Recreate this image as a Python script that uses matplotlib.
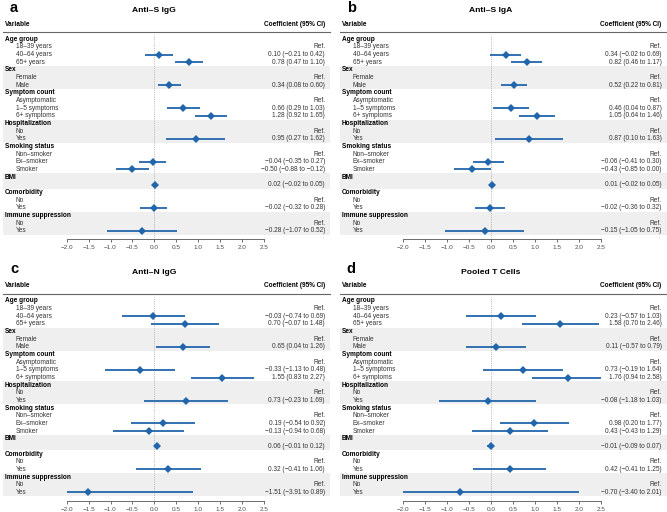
import numpy as np
import matplotlib
matplotlib.use('Agg')
import matplotlib.pyplot as plt

plt.rcParams['font.family'] = ['Liberation Sans', 'DejaVu Sans']

# rows: (label, kind)  kind: g = group header, r = reference, e = estimate
rows = [('Age group', 'g'), ('18–39 years', 'r'), ('40–64 years', 'e'), ('65+ years', 'e'),
        ('Sex', 'g'), ('Female', 'r'), ('Male', 'e'),
        ('Symptom count', 'g'), ('Asymptomatic', 'r'), ('1–5 symptoms', 'e'), ('6+ symptoms', 'e'),
        ('Hospitalization', 'g'), ('No', 'r'), ('Yes', 'e'),
        ('Smoking status', 'g'), ('Non–smoker', 'r'), ('Ex–smoker', 'e'), ('Smoker', 'e'),
        ('BMI', 'g'), ('', 'e'),
        ('Comorbidity', 'g'), ('No', 'r'), ('Yes', 'e'),
        ('Immune suppression', 'g'), ('No', 'r'), ('Yes', 'e')]

# groups shaded grey (start row, end row)
shaded = [(4, 6), (11, 13), (18, 19), (23, 25)]

titles = ['Anti–S IgG', 'Anti–S IgA', 'Anti–N IgG', 'Pooled T Cells']
letters = ['a', 'b', 'c', 'd']

est_a = [0.10, 0.78, 0.34, 0.66, 1.28, 0.95, -0.04, -0.50, 0.02, -0.02, -0.28]
lo_a = [-0.21, 0.47, 0.08, 0.29, 0.92, 0.27, -0.35, -0.88, -0.02, -0.32, -1.07]
hi_a = [0.42, 1.10, 0.60, 1.03, 1.65, 1.62, 0.27, -0.12, 0.05, 0.28, 0.52]

est_b = [0.34, 0.82, 0.52, 0.46, 1.05, 0.87, -0.06, -0.43, 0.01, -0.02, -0.15]
lo_b = [-0.02, 0.46, 0.22, 0.04, 0.64, 0.10, -0.41, -0.85, -0.02, -0.36, -1.05]
hi_b = [0.69, 1.17, 0.81, 0.87, 1.46, 1.63, 0.30, 0.00, 0.05, 0.32, 0.75]

est_c = [-0.03, 0.70, 0.65, -0.33, 1.55, 0.73, 0.19, -0.13, 0.06, 0.32, -1.51]
lo_c = [-0.74, -0.07, 0.04, -1.13, 0.83, -0.23, -0.54, -0.94, -0.01, -0.41, -3.91]
hi_c = [0.69, 1.48, 1.26, 0.48, 2.27, 1.69, 0.92, 0.68, 0.12, 1.06, 0.89]

est_d = [0.23, 1.58, 0.11, 0.73, 1.76, -0.08, 0.98, 0.43, -0.01, 0.42, -0.70]
lo_d = [-0.57, 0.70, -0.57, -0.19, 0.94, -1.18, 0.20, -0.43, -0.09, -0.41, -3.40]
hi_d = [1.03, 2.46, 0.79, 1.64, 2.58, 1.03, 1.77, 1.29, 0.07, 1.25, 2.01]

xticks = np.arange(-2.0, 2.51, 0.5)

W, H = 667, 512
fig = plt.figure(figsize=(W / 100, H / 100), dpi=100)

ROW0 = 39.3     # px of first row inside a panel
STEP = 7.655    # px per row
AXIS_Y = 239.0  # px of x axis line
FS = 4.7
BLUE = '#2166ac'


def fmt(v):
    return f'{v:.2f}'.replace('-', '−')


def add_axes_px(x0, x1, y0, y1):
    return fig.add_axes([x0 / W, 1 - y1 / H, (x1 - x0) / W, (y1 - y0) / H])


def draw_panel(px, py, letter, title, est, lo, hi):
    top = ROW0 - 0.5 * STEP + py
    bot = AXIS_Y + py
    ylim = ((AXIS_Y - ROW0) / STEP, -0.5)

    # background / text axes
    bg = add_axes_px(px + 3, px + 330, top, bot)
    bg.set_xlim(3, 330)
    bg.set_ylim(*ylim)
    bg.axis('off')
    for s, e in shaded:
        bg.axhspan(s - 0.5, e + 0.5, color='#efefef', lw=0, zorder=0)

    k = 0
    for i, (lab, kind) in enumerate(rows):
        if kind == 'g':
            bg.text(5, i, lab, fontsize=FS, fontweight='bold', va='center', ha='left', color='black')
        else:
            bg.text(16, i, lab, fontsize=FS, va='center', ha='left', color='#333333')
            if kind == 'r':
                bg.text(325, i, 'Ref.', fontsize=FS, va='center', ha='right', color='#333333')
            else:
                s = f'{fmt(est[k])} ({fmt(lo[k])} to {fmt(hi[k])})'
                bg.text(325, i, s, fontsize=FS, va='center', ha='right', color='#333333')
                k += 1

    # header
    fig.text((px + 5) / W, 1 - (py + 24) / H, 'Variable', fontsize=FS, fontweight='bold',
             va='center', ha='left')
    fig.text((px + 325) / W, 1 - (py + 24) / H, 'Coefficient (95% CI)', fontsize=FS,
             fontweight='bold', va='center', ha='right')
    fig.add_artist(plt.Line2D([(px + 3) / W, (px + 330) / W], [1 - (py + 32.3) / H] * 2,
                              color='#666666', lw=0.8))
    fig.text((px + 154) / W, 1 - (py + 11) / H, title, fontsize=6.1, fontweight='bold',
             va='center', ha='center')
    fig.text((px + 10) / W, 1 - (py + 7.5) / H, letter, fontsize=10.5, fontweight='bold',
             va='center', ha='left')

    # forest axes
    ax = add_axes_px(px + 66.7, px + 264, top, bot)
    ax.patch.set_alpha(0)
    ax.set_xlim(-2, 2.5)
    ax.set_ylim(*ylim)
    for sp in ['top', 'left', 'right']:
        ax.spines[sp].set_visible(False)
    ax.spines['bottom'].set_color('#555555')
    ax.spines['bottom'].set_linewidth(0.6)
    ax.set_yticks([])
    ax.set_xticks(xticks)
    ax.set_xticklabels([f'{t:.1f}'.replace('-', '−') for t in xticks])
    ax.tick_params(axis='x', labelsize=4.6, labelcolor='#4d4d4d', color='#555555',
                   length=2, width=0.6, pad=2.5)
    ax.axvline(0, color='#aaaaaa', lw=0.6, ls=(0, (1, 1.2)), zorder=1)

    ypos = [i for i, (_, kind) in enumerate(rows) if kind == 'e']
    ax.hlines(ypos, lo, hi, color=BLUE, lw=1.3, zorder=2)
    ax.plot(est, ypos, 'D', color=BLUE, ms=3.6, mew=0, zorder=3)


draw_panel(0, 0, letters[0], titles[0], est_a, lo_a, hi_a)
draw_panel(336.7, 0, letters[1], titles[1], est_b, lo_b, hi_b)
draw_panel(0, 261.7, letters[2], titles[2], est_c, lo_c, hi_c)
draw_panel(336.7, 261.7, letters[3], titles[3], est_d, lo_d, hi_d)

fig.savefig('out.png', dpi=100)
